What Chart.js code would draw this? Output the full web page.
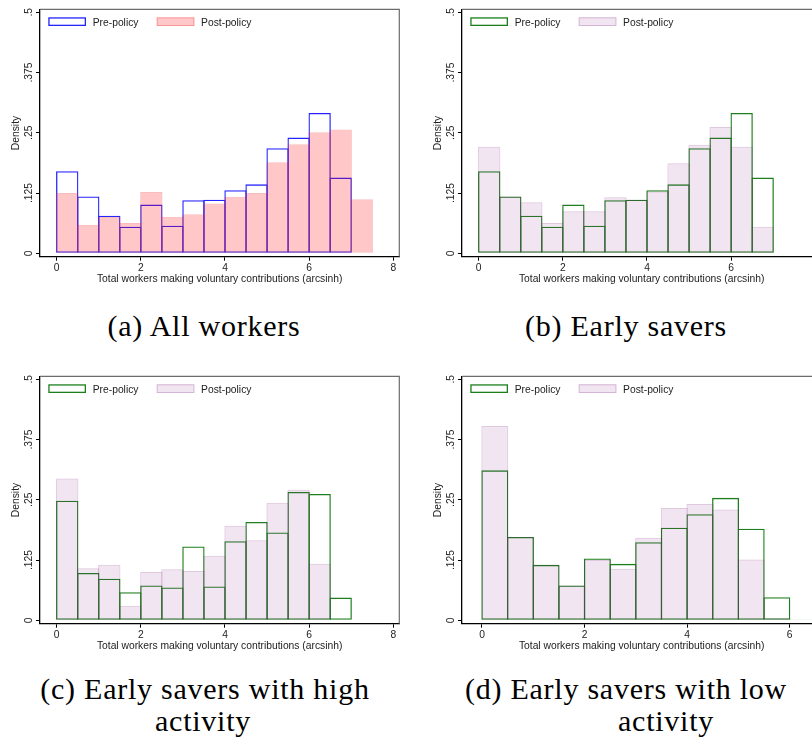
<!DOCTYPE html>
<html>
<head>
<meta charset="utf-8">
<title>Voluntary contributions histograms</title>
<script src="https://cdn.jsdelivr.net/npm/chart.js@4.4.1/dist/chart.umd.min.js"></script>
<style>
  html, body { margin: 0; padding: 0; background: #fff; }
  #page { position: relative; width: 812px; height: 739px; overflow: hidden; background: #fff; }
  .panel { position: absolute; width: 420px; height: 290px; }
  .caption {
    position: absolute; width: 400px; text-align: center;
    font-family: "Liberation Serif", "Times New Roman", serif;
    font-size: 30px; letter-spacing: 0.75px; line-height: 34px; color: #000;
    white-space: nowrap;
  }
</style>
</head>
<body>
<div id="page">
  <canvas id="chartA" class="panel" width="420" height="290" style="left:0px;top:0px"></canvas>
  <canvas id="chartB" class="panel" width="420" height="290" style="left:422px;top:0px"></canvas>
  <canvas id="chartC" class="panel" width="420" height="290" style="left:0px;top:367px"></canvas>
  <canvas id="chartD" class="panel" width="420" height="290" style="left:422px;top:367px"></canvas>

  <div class="caption" style="left:4px;top:309px">(a) All workers</div>
  <div class="caption" style="left:426px;top:309px">(b) Early savers</div>
  <div class="caption" style="left:5px;top:672px">(c) Early savers with high</div>
  <div class="caption" style="left:3px;top:704px">activity</div>
  <div class="caption" style="left:426px;top:672px">(d) Early savers with low</div>
  <div class="caption" style="left:466px;top:704px">activity</div>
</div>

<script>
// Histogram bins of width 0.5 on the arcsinh scale, identified by their midpoints
const binMidpoints = [0.25, 0.75, 1.25, 1.75, 2.25, 2.75, 3.25, 3.75,
                      4.25, 4.75, 5.25, 5.75, 6.25, 6.75, 7.25, 7.75];

const seriesLabels = ['Pre-policy', 'Post-policy'];
const xAxisTitle = 'Total workers making voluntary contributions (arcsinh)';
const yAxisTitle = 'Density';
const yTicks = [0, 0.125, 0.25, 0.375, 0.5];
const yTickLabels = ['0', '.125', '.25', '.375', '.5'];
const xTicksWide = [0, 2, 4, 6, 8];
const xTicksNarrow = [0, 2, 4, 6];

// (a) All workers
const allWorkersPre  = [0.170, 0.118, 0.078, 0.055, 0.101, 0.057, 0.110, 0.111,
                        0.131, 0.143, 0.218, 0.240, 0.291, 0.157];
const allWorkersPost = [0.125, 0.059, 0.075, 0.063, 0.127, 0.076, 0.081, 0.103,
                        0.117, 0.125, 0.189, 0.226, 0.251, 0.257, 0.112, 0.0015];

// (b) Early savers
const earlySaversPre  = [0.170, 0.118, 0.078, 0.055, 0.101, 0.057, 0.110, 0.111,
                         0.131, 0.143, 0.218, 0.240, 0.291, 0.157];
const earlySaversPost = [0.221, 0.118, 0.106, 0.063, 0.087, 0.087, 0.116, 0.111,
                         0.128, 0.187, 0.225, 0.262, 0.221, 0.055];

// (c) Early savers with high activity
const highActivityPre  = [0.248, 0.098, 0.086, 0.058, 0.072, 0.068, 0.153, 0.070,
                          0.164, 0.204, 0.182, 0.266, 0.262, 0.047];
const highActivityPost = [0.294, 0.108, 0.115, 0.030, 0.100, 0.106, 0.102, 0.134,
                          0.196, 0.166, 0.244, 0.271, 0.117, 0.0015];

// (d) Early savers with low activity
const lowActivityPre  = [0.311, 0.173, 0.115, 0.072, 0.128, 0.117, 0.162, 0.192,
                         0.220, 0.254, 0.190, 0.048, 0.0015];
const lowActivityPost = [0.403, 0.173, 0.115, 0.072, 0.125, 0.107, 0.171, 0.233,
                         0.241, 0.230, 0.126, 0.004];

const AXIS_FONT = { family: '"Liberation Sans", Arial, sans-serif', size: 10.3 };
const TEXT_COLOR = '#222';

const palettes = {
  blueRed: {
    pre:  { border: '#2424ff', fill: 'rgba(0,0,0,0)', width: 1.3 },
    post: { border: 'rgba(235,50,50,0.32)', fill: 'rgba(255,0,0,0.22)', width: 1 }
  },
  greenLavender: {
    pre:  { border: '#1c7f1c', fill: 'rgba(0,0,0,0)', width: 1.3 },
    post: { border: 'rgba(120,30,120,0.24)', fill: 'rgba(150,40,150,0.12)', width: 1 }
  }
};

function toPoints(values) {
  return values.map((v, i) => ({ x: binMidpoints[i], y: v }));
}

// Plot-region outline, rotated y tick labels and the in-plot legend
const stataDecor = {
  id: 'stataDecor',
  afterDraw(chart) {
    const { ctx, chartArea: a } = chart;
    const y = chart.scales.y;
    ctx.save();

    // thin grey outline on the top and right of the plot region
    ctx.strokeStyle = '#6c6c6c';
    ctx.lineWidth = 1.2;
    ctx.beginPath();
    ctx.moveTo(a.left, a.top);
    ctx.lineTo(a.right, a.top);
    ctx.lineTo(a.right, a.bottom);
    ctx.stroke();

    // vertical y tick labels
    ctx.fillStyle = TEXT_COLOR;
    ctx.font = AXIS_FONT.size + 'px ' + AXIS_FONT.family;
    ctx.textAlign = 'center';
    ctx.textBaseline = 'middle';
    y.ticks.forEach((t, i) => {
      const py = y.getPixelForValue(t.value);
      ctx.save();
      ctx.translate(a.left - 11, py);
      ctx.rotate(-Math.PI / 2);
      ctx.fillText(yTickLabels[i], 0, 0);
      ctx.restore();
    });

    // legend keys
    const keyOffsets = [8.3, 116.7];
    chart.data.datasets.forEach((ds, i) => {
      const bx = a.left + keyOffsets[i];
      const by = a.top + 8;
      const bw = 37.7, bh = 8.7;
      ctx.fillStyle = ds.backgroundColor;
      ctx.fillRect(bx, by, bw, bh);
      ctx.strokeStyle = ds.borderColor;
      ctx.lineWidth = ds.borderWidth;
      ctx.strokeRect(bx + ds.borderWidth / 2, by + ds.borderWidth / 2,
                     bw - ds.borderWidth, bh - ds.borderWidth);
      ctx.fillStyle = TEXT_COLOR;
      ctx.textAlign = 'left';
      ctx.textBaseline = 'middle';
      ctx.fillText(ds.label, bx + bw + 6.7, a.top + 13.4);
    });

    ctx.restore();
  }
};

function makeHistogram(canvasId, pre, post, colors, xMin, xMax, xTicks, barPct) {
  const ctx = document.getElementById(canvasId).getContext('2d');
  return new Chart(ctx, {
    type: 'bar',
    data: {
      datasets: [
        {
          label: seriesLabels[0],
          data: toPoints(pre),
          order: 1,
          backgroundColor: colors.pre.fill,
          borderColor: colors.pre.border,
          borderWidth: colors.pre.width
        },
        {
          label: seriesLabels[1],
          data: toPoints(post),
          order: 0,
          backgroundColor: colors.post.fill,
          borderColor: colors.post.border,
          borderWidth: colors.post.width
        }
      ]
    },
    options: {
      responsive: false,
      animation: false,
      devicePixelRatio: 1,
      grouped: false,
      barPercentage: barPct,
      categoryPercentage: 1,
      borderSkipped: false,
      inflateAmount: 0,
      layout: { padding: { top: 9.3, right: 20.7, left: 0, bottom: 0 } },
      plugins: { legend: { display: false }, tooltip: { enabled: false } },
      scales: {
        x: {
          type: 'linear',
          min: xMin,
          max: xMax,
          offset: false,
          afterBuildTicks: s => { s.ticks = xTicks.map(v => ({ value: v })); },
          afterFit: s => { s.height = 33.3; },
          grid: { display: true, offset: false, drawOnChartArea: false, drawTicks: true,
                  tickLength: 4, color: '#000', lineWidth: 1 },
          border: { display: true, color: '#000', width: 1.3 },
          ticks: { font: AXIS_FONT, color: TEXT_COLOR, padding: 1, maxRotation: 0,
                   autoSkip: false, callback: v => String(v) },
          title: { display: true, text: xAxisTitle, font: AXIS_FONT, color: TEXT_COLOR,
                   padding: { top: 0, bottom: 4.5 } }
        },
        y: {
          type: 'linear',
          min: -0.0071,
          max: 0.5061,
          afterBuildTicks: s => { s.ticks = yTicks.map(v => ({ value: v })); },
          afterFit: s => { s.width = 40; },
          grid: { display: true, drawOnChartArea: false, drawTicks: true,
                  tickLength: 4, color: '#000', lineWidth: 1 },
          border: { display: true, color: '#000', width: 1.3 },
          ticks: { display: false },
          title: { display: true, text: yAxisTitle, font: AXIS_FONT, color: TEXT_COLOR,
                   padding: { top: 9.8, bottom: 0 } }
        }
      }
    },
    plugins: [stataDecor]
  });
}

makeHistogram('chartA', allWorkersPre, allWorkersPost, palettes.blueRed,
              -0.397, 8.143, xTicksWide, 1.062);
makeHistogram('chartB', earlySaversPre, earlySaversPost, palettes.greenLavender,
              -0.397, 8.143, xTicksWide, 1.062);
makeHistogram('chartC', highActivityPre, highActivityPost, palettes.greenLavender,
              -0.397, 8.143, xTicksWide, 1.062);
makeHistogram('chartD', lowActivityPre, lowActivityPost, palettes.greenLavender,
              -0.39, 6.617, xTicksNarrow, 1.051);
</script>
</body>
</html>
